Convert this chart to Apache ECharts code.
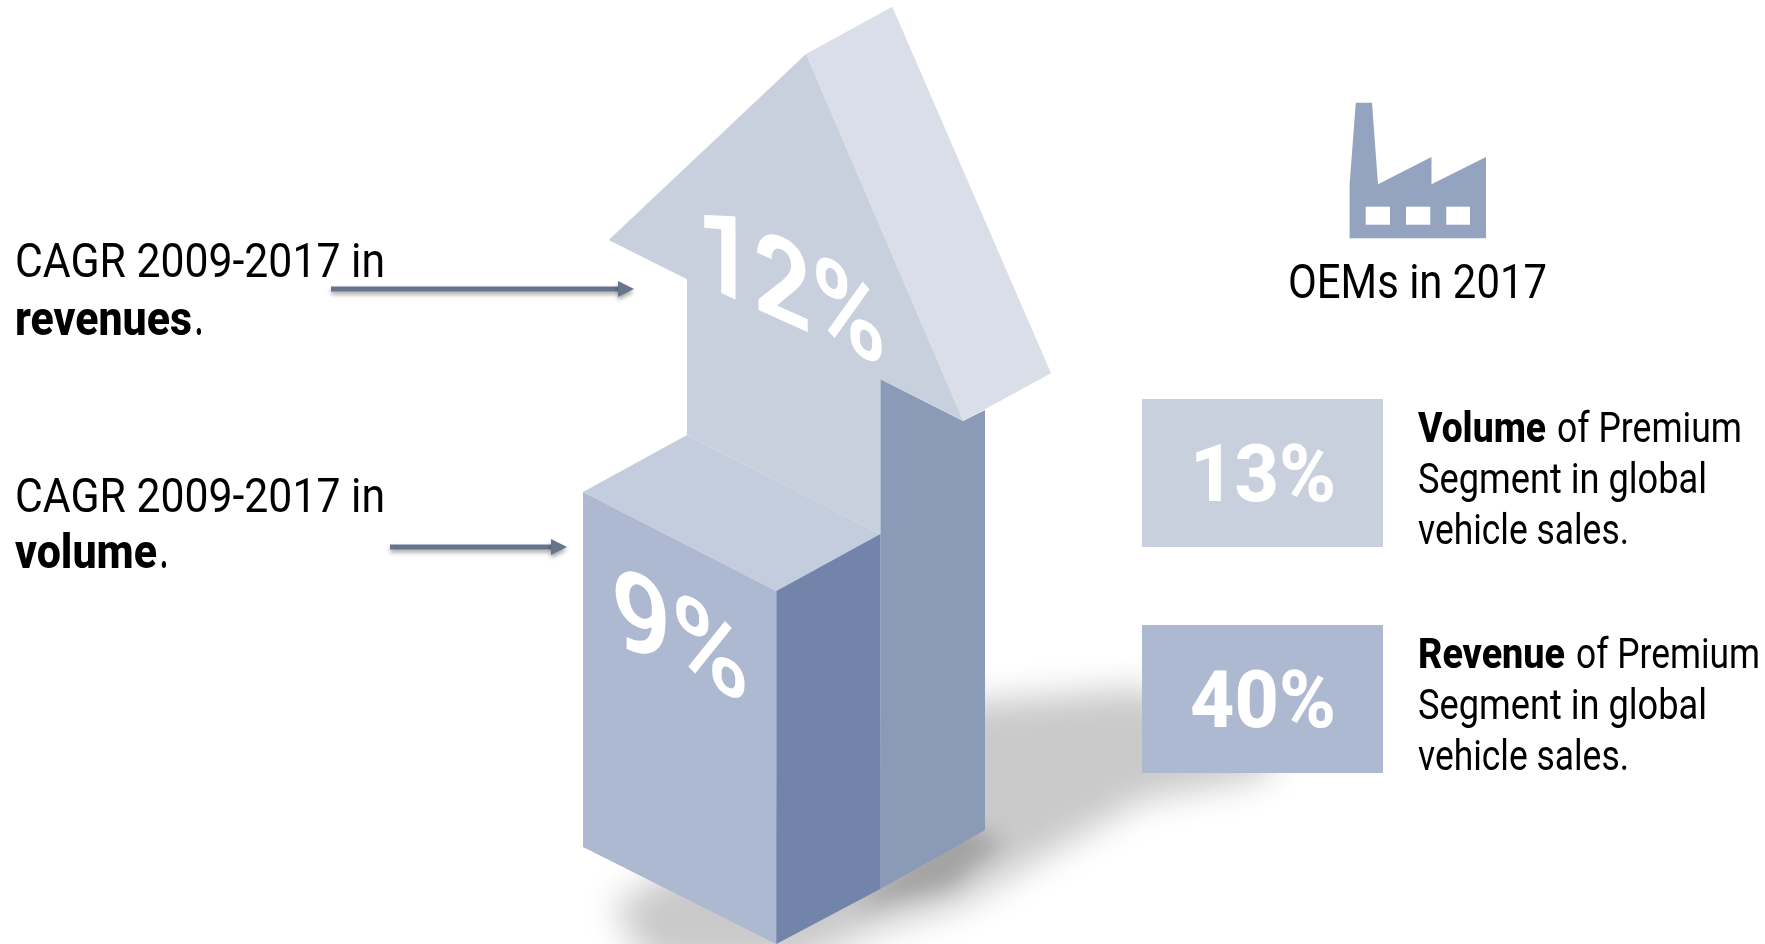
<!DOCTYPE html>
<html>
<head>
<meta charset="utf-8">
<style>html,body{margin:0;padding:0;background:#fff}#main{width:1765px;height:944px}</style>
<script src="https://cdn.jsdelivr.net/npm/echarts@6/dist/echarts.min.js"></script>
</head>
<body>
<div id="main"></div>
<script>
// Growth rates on the isometric block and premium-segment shares in the tiles
const cagrMetrics = ['revenues', 'volume'];
const cagrValues = [12, 9];
const cagrPeriod = 'CAGR 2009-2017 in';
const shareMetrics = ['Volume', 'Revenue'];
const shareValues = [13, 40];
const shareLines = ['of Premium', 'Segment in global', 'vehicle sales.'];
const factoryTitle = 'OEMs in 2017';

const FONT = 'Roboto, "Noto Sans", sans-serif';
const measure = document.createElement('canvas').getContext('2d');

// Horizontally condensed text: fits the string into the given width, placed by its baseline
function label(str, x, baseline, width, size, weight, fill, extra) {
  measure.font = weight + ' ' + size + 'px Roboto';
  const natural = measure.measureText(str).width;
  return Object.assign({
    type: 'text', x: x, y: baseline + size * 0.24, scaleX: width / natural, z: 50,
    style: {
      text: str, fill: fill || '#000', font: weight + ' ' + size + 'px ' + FONT,
      textAlign: 'left', textVerticalAlign: 'bottom'
    }
  }, extra || {});
}
const poly = (pts, fill, z) => ({ type: 'polygon', z: z || 10, shape: { points: pts }, style: { fill: fill } });

// Soft ground shadow: the outline sits off-canvas so only its blur is painted
const OFF = 4000;
function groundShadow(pts, blur, color) {
  return {
    type: 'polygon', z: 1,
    shape: { points: pts.map(p => [p[0] - OFF, p[1]]) },
    style: { fill: '#000', shadowBlur: blur, shadowColor: color, shadowOffsetX: OFF }
  };
}
// Pointer line with an arrow head
function pointer(x0, x1, y) {
  const shadow = { shadowBlur: 4, shadowOffsetY: 3, shadowColor: 'rgba(0,0,0,0.35)' };
  return [
    { type: 'rect', z: 40, shape: { x: x0, y: y - 2.5, width: x1 - x0 - 14, height: 5 }, style: Object.assign({ fill: '#66748d' }, shadow) },
    { type: 'polygon', z: 40, shape: { points: [[x1 - 16, y - 8], [x1, y], [x1 - 16, y + 8]] }, style: Object.assign({ fill: '#66748d' }, shadow) }
  ];
}

const elements = [
  // Ground shadow
  groundShadow([[900, 708], [1140, 688], [1290, 740], [1260, 778], [1143, 800], [1060, 847], [960, 905], [880, 928], [790, 965], [650, 965], [612, 905], [800, 800]], 34, 'rgba(0,0,0,0.21)'),
  groundShadow([[950, 825], [1005, 840], [950, 888], [850, 910]], 20, 'rgba(0,0,0,0.19)'),

  // Isometric block with the arrow on top
  poly([[880.3, 379], [963, 421], [985, 410], [985, 830], [880.3, 889]], '#8a9ab7'),
  poly([[806, 54], [892.3, 6.7], [1051, 373.3], [963.3, 421]], '#d9dee8'),
  poly([[608.7, 240], [806, 54], [963.3, 421], [880.3, 379], [880.3, 534], [687, 435], [687, 279.3]], '#c8d0de'),
  poly([[583, 492], [687, 435], [880.3, 534], [776.3, 591]], '#c4cddd', 11),
  poly([[583, 492], [776.3, 591], [776.3, 944], [583, 847]], '#adb9d0', 11),
  poly([[776.3, 591], [880.3, 534], [880.3, 889], [776.3, 944]], '#7284aa', 11),

  // Rates printed on the faces, sheared onto the isometric planes
  label(cagrValues[0] + '%', 696, 283, 190, 116, 700, '#fff', { skewY: -Math.atan(0.45) }),
  label(cagrValues[1] + '%', 611, 642, 138, 112, 600, '#fff', { skewY: -Math.atan(0.46) }),

  // Left captions
  label(cagrPeriod, 15, 277, 370, 49, 400),
  label(cagrMetrics[0], 15, 335, 177, 49, 800),
  label('.', 195, 335, 8, 49, 700),
  label(cagrPeriod, 15, 512, 370, 49, 400),
  label(cagrMetrics[1], 15, 568, 142, 49, 800),
  label('.', 160, 568, 8, 49, 700),
  ...pointer(331, 634, 289),
  ...pointer(390, 567, 547),

  // Factory pictogram
  poly([[1349.6, 184.3], [1355.8, 102.7], [1372, 102.7], [1378, 184.3], [1431.5, 157], [1431.5, 184.3], [1486, 157], [1486, 238.3], [1349.6, 238.3]], '#94a3bf'),
  { type: 'rect', z: 11, shape: { x: 1365.7, y: 206.7, width: 24.3, height: 18 }, style: { fill: '#fff' } },
  { type: 'rect', z: 11, shape: { x: 1406, y: 206.7, width: 24.3, height: 18 }, style: { fill: '#fff' } },
  { type: 'rect', z: 11, shape: { x: 1446.3, y: 206.7, width: 23.7, height: 18 }, style: { fill: '#fff' } },
  label(factoryTitle, 1288, 298, 259, 48, 400)
];

// Share tiles with their descriptions
const tileFills = ['#c8d0de', '#adb9d0'];
const tileTops = [399, 625];
const metricWidths = [128, 147];
const restStarts = [1557, 1576];
const restWidths = [185, 184];
shareValues.forEach((v, i) => {
  const top = tileTops[i];
  elements.push(
    { type: 'rect', z: 20, shape: { x: 1142, y: top, width: 241, height: 148 }, style: { fill: tileFills[i] } },
    label(v + '%', 1190, top + 103, 146, 80, 800, '#fff'),
    label(shareMetrics[i], 1418, top + 43, metricWidths[i], 43, 800),
    label(shareLines[0], restStarts[i], top + 43, restWidths[i], 43, 400),
    label(shareLines[1], 1418, top + 94, 289, 43, 400),
    label(shareLines[2], 1418, top + 145, 211, 43, 400)
  );
});

const chart = echarts.init(document.getElementById('main'), null, { renderer: 'canvas' });
chart.setOption({ animation: false, backgroundColor: '#fff', graphic: { elements: elements } });
</script>
</body>
</html>
